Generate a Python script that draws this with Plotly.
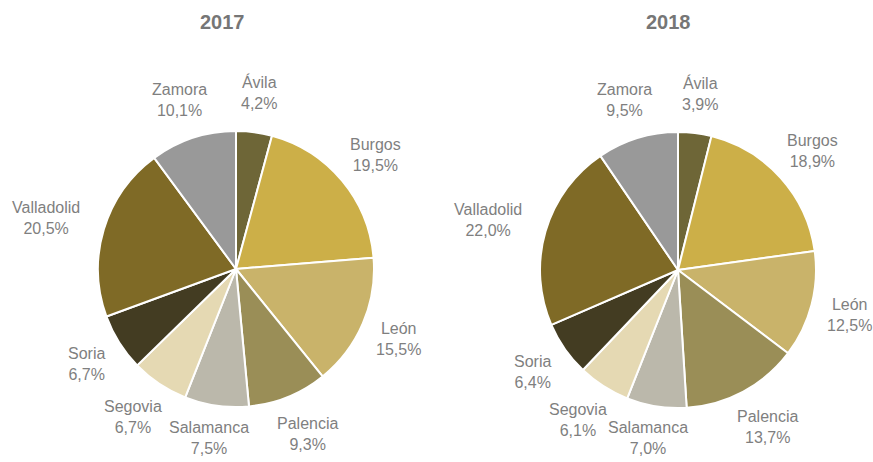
import math
import plotly.graph_objects as go

provinces = ["Ávila", "Burgos", "León", "Palencia", "Salamanca", "Segovia", "Soria", "Valladolid", "Zamora"]
values_2017 = [4.2, 19.5, 15.5, 9.3, 7.5, 6.7, 6.7, 20.5, 10.1]
values_2018 = [3.9, 18.9, 12.5, 13.7, 7.0, 6.1, 6.4, 22.0, 9.5]
years = ["2017", "2018"]
colors = ["#6e6637", "#ccaf48", "#c9b36a", "#9a8e57", "#bbb8ab", "#e5d9b3", "#433c22", "#7f6a26", "#999999"]

W, H = 873, 462
# pie geometry (pixels): centres and radius
centres = [(236, 269), (678, 270)]
R = 138
font = dict(family="Liberation Sans, Arial", size=16, color="#7f7f7f")

fig = go.Figure()
for vals, (cx, cy) in zip([values_2017, values_2018], centres):
    dom_x = [(cx - R) / W, (cx + R) / W]
    dom_y = [1 - (cy + R) / H, 1 - (cy - R) / H]
    fig.add_trace(go.Pie(
        labels=provinces, values=vals, sort=False, direction="clockwise", rotation=0,
        marker=dict(colors=colors, line=dict(color="white", width=2)),
        textinfo="none", domain=dict(x=dom_x, y=dom_y), showlegend=False,
        hoverinfo="label+value",
    ))
    # outside data labels positioned along each slice's mid-angle
    total = sum(vals)
    cum = 0.0
    for name, v in zip(provinces, vals):
        mid = (cum + v / 2) / total * 2 * math.pi
        cum += v
        ux, uy = math.sin(mid), -math.cos(mid)
        vtxt = f"{v:.1f}%".replace(".", ",")
        tw = max(len(name), len(vtxt)) * 8.4
        th = 44
        d = R + 18
        px = cx + d * ux + tw / 2 * ux
        py = cy + d * uy + th / 2 * uy
        py = min(py, H - th / 2 - 2)
        fig.add_annotation(text=f"{name}<br>{vtxt}", x=px / W, y=1 - py / H,
                           xref="paper", yref="paper", xanchor="center", yanchor="middle",
                           showarrow=False, font=font)

for yr, (cx, _) in zip(years, [(222, 0), (668, 0)]):
    fig.add_annotation(text="<b>" + yr + "</b>", x=cx / W, y=1 - 22 / H, xref="paper", yref="paper",
                       xanchor="center", yanchor="middle", showarrow=False,
                       font=dict(family="Liberation Sans, Arial", size=20, color="#767676"))

fig.update_layout(width=W, height=H, margin=dict(l=0, r=0, t=0, b=0),
                  paper_bgcolor="white", plot_bgcolor="white", separators=",.")
fig.write_html("out.html", config={"displayModeBar": False},
               post_script="document.body.style.margin='0';")
